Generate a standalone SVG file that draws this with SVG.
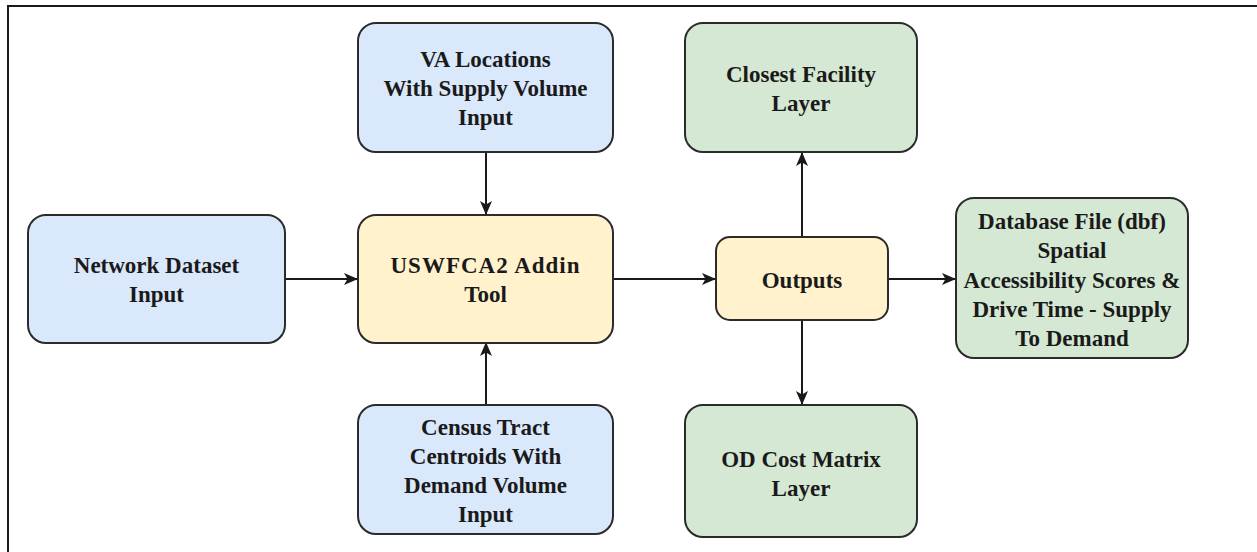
<svg xmlns="http://www.w3.org/2000/svg" width="1257" height="552" viewBox="0 0 1257 552">
<style>
.box{stroke:#2b2b2b;stroke-width:2}
.blue{fill:#dae8fc}
.yellow{fill:#fff2cc}
.green{fill:#d5e8d4}
.t{font-family:"Liberation Serif","Times New Roman",serif;font-weight:bold;font-size:23px;fill:#1a1a1a;text-anchor:middle}
.edge{stroke:#1a1a1a;stroke-width:2;fill:none;marker-end:url(#arr)}
</style>
<defs>
<marker id="arr" viewBox="0 0 14 12" refX="13" refY="6" markerWidth="14" markerHeight="12" markerUnits="userSpaceOnUse" orient="auto">
<path d="M0,0 L14,6 L0,12 L3.5,6 Z" fill="#1a1a1a"/>
</marker>
</defs>
<rect x="0" y="0" width="1257" height="552" fill="#ffffff"/>
<rect x="8" y="6" width="1270" height="570" fill="none" stroke="#1a1a1a" stroke-width="2"/>
<g id="connectors">
<path class="edge" d="M285,279 L357,279"/>
<path class="edge" d="M486,152 L486,214"/>
<path class="edge" d="M486,405 L486,343"/>
<path class="edge" d="M613,279 L715,279"/>
<path class="edge" d="M802,237 L802,153"/>
<path class="edge" d="M802,320 L802,404"/>
<path class="edge" d="M888,279 L955,279"/>
</g>
<g id="network">
<rect class="box blue" x="28" y="215" width="257" height="128" rx="18"/>
<text class="t" x="156.5" y="273">Network Dataset</text>
<text class="t" x="156.5" y="302">Input</text>
</g>
<g id="va">
<rect class="box blue" x="358" y="23" width="255" height="129" rx="18"/>
<text class="t" x="485.5" y="67">VA Locations</text>
<text class="t" x="485.5" y="96">With Supply Volume</text>
<text class="t" x="485.5" y="125">Input</text>
</g>
<g id="tool">
<rect class="box yellow" x="358" y="215" width="255" height="128" rx="18"/>
<text class="t" x="485.5" y="273" letter-spacing="1">USWFCA2 Addin</text>
<text class="t" x="485.5" y="302">Tool</text>
</g>
<g id="census">
<rect class="box blue" x="358" y="405" width="255" height="129" rx="18"/>
<text class="t" x="485.5" y="435">Census Tract</text>
<text class="t" x="485.5" y="464">Centroids With</text>
<text class="t" x="485.5" y="493">Demand Volume</text>
<text class="t" x="485.5" y="522">Input</text>
</g>
<g id="outputs">
<rect class="box yellow" x="716" y="237" width="172" height="83" rx="14"/>
<text class="t" x="802" y="288">Outputs</text>
</g>
<g id="closest">
<rect class="box green" x="685" y="23" width="232" height="129" rx="18"/>
<text class="t" x="801" y="82">Closest Facility</text>
<text class="t" x="801" y="111">Layer</text>
</g>
<g id="od">
<rect class="box green" x="685" y="405" width="232" height="132" rx="18"/>
<text class="t" x="801" y="467">OD Cost Matrix</text>
<text class="t" x="801" y="496">Layer</text>
</g>
<g id="database">
<rect class="box green" x="956" y="198" width="232" height="160" rx="18"/>
<text class="t" x="1072" y="229">Database File (dbf)</text>
<text class="t" x="1072" y="258">Spatial</text>
<text class="t" x="1072" y="288">Accessibility Scores &amp;</text>
<text class="t" x="1072" y="317">Drive Time - Supply</text>
<text class="t" x="1072" y="346">To Demand</text>
</g>
</svg>
